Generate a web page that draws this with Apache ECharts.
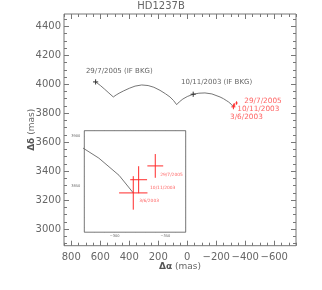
<!DOCTYPE html>
<html>
<head>
<meta charset="utf-8">
<script src="https://cdn.jsdelivr.net/npm/echarts@6/dist/echarts.min.js"></script>
<style>html,body{margin:0;padding:0;background:#fff;}#c{width:322px;height:290px;}</style>
</head>
<body>
<div id="c"></div>
<script>
// ---- data ----
const obsDates = ['3/6/2003', '10/11/2003', '29/7/2005'];
const obsDA = [-318.3, -323.6, -340.0];
const obsDD = [3843.7, 3856.7, 3870.3];
const obsErrDA = [14, 8.3, 7.8];
const obsErrDD = [16.5, 13.3, 11.7];

const bkgLabels = ['29/7/2005 (IF BKG)', '10/11/2003 (IF BKG)'];
const bkgDA = [632, -41];
const bkgDD = [4016, 3931];

const pathDA = [632, 600, 570, 540, 510, 490, 470, 441, 400, 360, 314, 270, 230, 188, 150, 119, 95, 73, 55, 30, 0, -41, -80, -122, -170, -226, -250, -268.6, -284.3, -304.3, -318.3];
const pathDD = [4016, 3992, 3966, 3939, 3912, 3926, 3938, 3953, 3972, 3987, 3995, 3991, 3979, 3958, 3934, 3912, 3888, 3859, 3878, 3898, 3915, 3931, 3938, 3940, 3933, 3912, 3900, 3888, 3878, 3861, 3843.7];

const xMajorTicks = [800, 600, 400, 200, 0, -200, -400, -600];
const yMajorTicks = [3000, 3200, 3400, 3600, 3800, 4000, 4200, 4400];
const insetXTicks = [-300, -350];
const insetYTicks = [3850, 3900];

// ---- helpers ----
function minorList(min, max, step, majors) {
  const out = [];
  for (let v = Math.ceil(min / step) * step; v <= max; v += step) {
    if (majors.indexOf(v) < 0) out.push(v);
  }
  return out;
}
const FONT = 'DejaVu Sans';
const axisColor = '#777';
const textColor = '#666';
const red = '#ff2a2a';
const redText = '#ff6464';
const fmt = v => (v < 0 ? '\u2212' + Math.abs(v) : String(v));

const X0 = [-750, 850], Y0 = [2885, 4485];
const X1 = [-370, -270], Y1 = [3805, 3905];

function mkAxis(dim, grid, range, inverse, pos, ticks, len, labelOpt, extra) {
  return Object.assign({
    gridIndex: grid, type: 'value', min: range[0], max: range[1], inverse: inverse,
    position: pos, scale: true,
    axisLine: {show: false, onZero: false}, splitLine: {show: false},
    axisTick: {show: true, inside: true, length: len, customValues: ticks, lineStyle: {color: axisColor, width: 1}},
    axisLabel: labelOpt ? Object.assign({show: true, customValues: ticks, formatter: fmt, color: textColor, fontFamily: FONT}, labelOpt) : {show: false}
  }, extra || {});
}

const xMinor0 = minorList(X0[0], X0[1], 50, xMajorTicks);
const yMinor0 = minorList(Y0[0], Y0[1], 50, yMajorTicks);
const xMinor1 = minorList(X1[0], X1[1], 10, insetXTicks);
const yMinor1 = minorList(Y1[0], Y1[1], 10, insetYTicks);

const xAxes = [
  mkAxis('x', 0, X0, true, 'bottom', xMajorTicks, 5, {fontSize: 10, margin: 7}, {
    name: '{b|Δα} (mas)', nameLocation: 'middle', nameGap: 16, nameMoveOverlap: false,
    nameTextStyle: {color: textColor, fontSize: 9, fontFamily: FONT, rich: {b: {fontWeight: 'bold', fontSize: 9, color: '#555', fontFamily: FONT}}}
  }),
  mkAxis('x', 0, X0, true, 'bottom', xMinor0, 3, null),
  mkAxis('x', 0, X0, true, 'top', xMajorTicks, 5, null),
  mkAxis('x', 0, X0, true, 'top', xMinor0, 3, null),
  mkAxis('x', 1, X1, true, 'bottom', insetXTicks, 3, {fontSize: 3.6, margin: 2}),
  mkAxis('x', 1, X1, true, 'bottom', xMinor1, 1.8, null),
  mkAxis('x', 1, X1, true, 'top', insetXTicks, 3, null),
  mkAxis('x', 1, X1, true, 'top', xMinor1, 1.8, null)
];
const yAxes = [
  mkAxis('y', 0, Y0, false, 'left', yMajorTicks, 5, {fontSize: 10, margin: 3}, {
    name: '{b|Δδ} (mas)', nameLocation: 'middle', nameGap: 28, nameRotate: 90, nameMoveOverlap: false,
    nameTextStyle: {color: textColor, fontSize: 9, fontFamily: FONT, rich: {b: {fontWeight: 'bold', fontSize: 9, color: '#555', fontFamily: FONT}}}
  }),
  mkAxis('y', 0, Y0, false, 'left', yMinor0, 3, null),
  mkAxis('y', 0, Y0, false, 'right', yMajorTicks, 5, null),
  mkAxis('y', 0, Y0, false, 'right', yMinor0, 3, null),
  mkAxis('y', 1, Y1, false, 'left', insetYTicks, 3, {fontSize: 3.6, margin: 4}),
  mkAxis('y', 1, Y1, false, 'left', yMinor1, 1.8, null),
  mkAxis('y', 1, Y1, false, 'right', insetYTicks, 3, null),
  mkAxis('y', 1, Y1, false, 'right', yMinor1, 1.8, null)
];

const pathData = pathDA.map((x, i) => [x, pathDD[i]]);
const obsData = obsDA.map((x, i) => [x, obsDD[i], obsErrDA[i], obsErrDD[i], i]);
const bkgData = bkgDA.map((x, i) => [x, bkgDD[i], i]);

// label offsets (pixels) relative to each mark
const mainObsOff = [[-3.4, 10.4], [3.1, 4.0], [7.7, -2.3]];
const insetObsOff = [[6, 8.4], [11.4, 8.0], [5, 8.6]];
const bkgOff = [[-9.7, -11], [-12.2, -12.2]];

function obsRenderer(offsets, fontSize, lw) {
  return function (params, api) {
    const c = api.coord([api.value(0), api.value(1)]);
    const ex = Math.abs(api.size([api.value(2), 0])[0]);
    const ey = Math.abs(api.size([0, api.value(3)])[1]);
    const i = api.value(4);
    const off = offsets[i];
    return {
      type: 'group',
      children: [
        {type: 'line', shape: {x1: c[0] - ex, y1: c[1], x2: c[0] + ex, y2: c[1]}, style: {stroke: red, lineWidth: lw}},
        {type: 'line', shape: {x1: c[0], y1: c[1] - ey, x2: c[0], y2: c[1] + ey}, style: {stroke: red, lineWidth: lw}},
        {type: 'text', x: c[0] + off[0], y: c[1] + off[1],
         style: {text: obsDates[i], fill: redText, fontSize: fontSize, fontFamily: FONT, align: 'left', verticalAlign: 'middle'}}
      ]
    };
  };
}

const option = {
  animation: false,
  backgroundColor: '#fff',
  title: {text: 'HD1237B', left: 'center', top: 1, padding: 0,
          textStyle: {fontSize: 10, fontWeight: 'normal', color: textColor, fontFamily: FONT}},
  grid: [
    {left: 64, top: 14, width: 232, height: 231.7, show: true, borderColor: axisColor, borderWidth: 1, backgroundColor: '#fff', containLabel: false, outerBoundsMode: 'none'},
    {left: 84.3, top: 130.7, width: 101.4, height: 101.5, show: true, borderColor: axisColor, borderWidth: 1, backgroundColor: '#fff', containLabel: false, outerBoundsMode: 'none', z: 5}
  ],
  xAxis: xAxes,
  yAxis: yAxes,
  series: [
    {type: 'line', xAxisIndex: 0, yAxisIndex: 0, data: pathData, showSymbol: false, symbol: 'none',
     lineStyle: {color: '#666', width: 0.9}, clip: true, z: 2},
    {type: 'custom', xAxisIndex: 0, yAxisIndex: 0, data: bkgData, z: 3,
     renderItem: function (params, api) {
       const c = api.coord([api.value(0), api.value(1)]);
       const i = api.value(2);
       const h = 2.6;
       return {type: 'group', children: [
         {type: 'line', shape: {x1: c[0] - h, y1: c[1], x2: c[0] + h, y2: c[1]}, style: {stroke: '#333', lineWidth: 1}},
         {type: 'line', shape: {x1: c[0], y1: c[1] - h, x2: c[0], y2: c[1] + h}, style: {stroke: '#333', lineWidth: 1}},
         {type: 'text', x: c[0] + bkgOff[i][0], y: c[1] + bkgOff[i][1],
          style: {text: bkgLabels[i], fill: textColor, fontSize: 7, fontFamily: FONT, align: 'left', verticalAlign: 'middle'}}
       ]};
     }},
    {type: 'custom', xAxisIndex: 0, yAxisIndex: 0, data: obsData, z: 3,
     renderItem: obsRenderer(mainObsOff, 7.3, 1)},
    {type: 'line', xAxisIndex: 4, yAxisIndex: 4, data: pathData, showSymbol: false, symbol: 'none',
     lineStyle: {color: '#666', width: 0.9}, clip: true, z: 6},
    {type: 'custom', xAxisIndex: 4, yAxisIndex: 4, data: obsData, z: 7,
     renderItem: obsRenderer(insetObsOff, 4.4, 1)}
  ]
};

const chart = echarts.init(document.getElementById('c'), null, {renderer: 'canvas'});
chart.setOption(option);
</script>
</body>
</html>
